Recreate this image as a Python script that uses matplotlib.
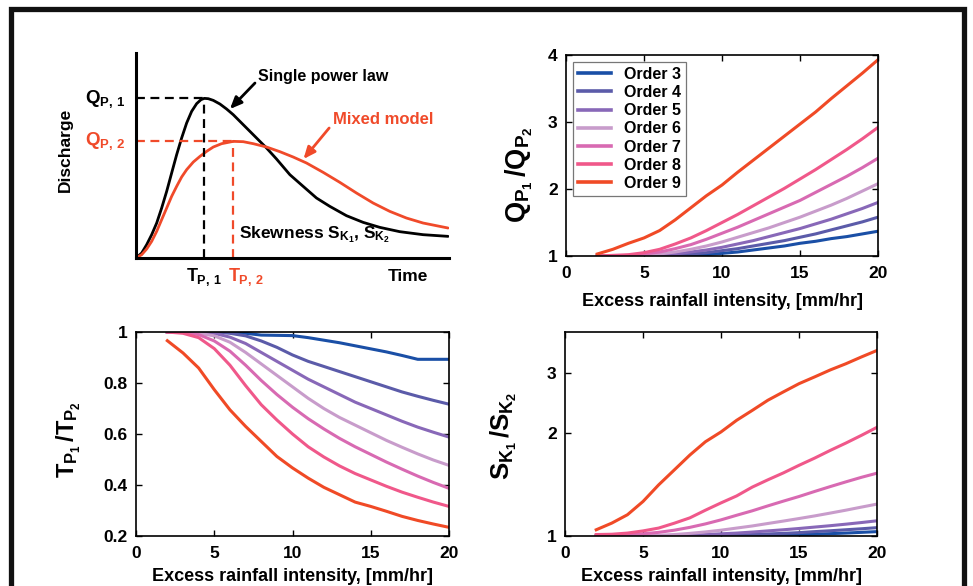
import matplotlib
matplotlib.use("Agg")
import matplotlib.pyplot as plt
from matplotlib.patches import Rectangle

plt.rcParams['font.family'] = ['Liberation Sans', 'DejaVu Sans']
plt.rcParams['font.weight'] = 'bold'
plt.rcParams['axes.labelweight'] = 'bold'
plt.rcParams['mathtext.fontset'] = 'custom'
plt.rcParams['mathtext.rm'] = 'Liberation Sans:bold'
plt.rcParams['mathtext.it'] = 'Liberation Sans:bold'
plt.rcParams['mathtext.bf'] = 'Liberation Sans:bold'

# ---- conceptual hydrographs (normalised time / discharge) ----
single_t = [0.0, 0.181, 0.340, 0.500, 0.660, 0.819, 0.979, 1.138, 1.298, 1.457, 1.617,
            1.777, 1.936, 2.074, 2.181, 2.309, 2.468, 2.681, 2.894, 3.106, 3.319, 3.585,
            3.851, 4.170, 4.489, 4.915, 5.340, 5.766, 6.191, 6.723, 7.255, 7.787, 8.426,
            9.170, 9.968]
single_q = [0.0, 0.25, 0.667, 1.167, 1.75, 2.5, 3.333, 4.25, 5.167, 6.0, 6.75,
            7.333, 7.717, 7.917, 7.983, 7.967, 7.883, 7.7, 7.45, 7.167, 6.833, 6.417,
            6.0, 5.5, 4.95, 4.167, 3.583, 3.0, 2.583, 2.117, 1.783, 1.533, 1.317,
            1.167, 1.083]
mixed_t = [0.0, 0.181, 0.340, 0.500, 0.660, 0.819, 0.979, 1.138, 1.298, 1.457, 1.617,
           1.830, 2.043, 2.255, 2.468, 2.734, 3.106, 3.426, 3.745, 4.170, 4.596, 5.021,
           5.447, 5.979, 6.511, 7.043, 7.574, 8.106, 8.638, 9.170, 9.968]
mixed_q = [0.0, 0.167, 0.45, 0.833, 1.333, 1.917, 2.5, 3.083, 3.583, 4.05, 4.417,
           4.8, 5.083, 5.333, 5.55, 5.717, 5.833, 5.817, 5.717, 5.55, 5.317, 5.05,
           4.75, 4.283, 3.783, 3.25, 2.75, 2.333, 2.0, 1.75, 1.5]

# ---- ratios vs excess rainfall intensity ----
intensity = [2, 3, 4, 5, 6, 7, 8, 9, 10, 11, 12, 13, 14, 15, 16, 17, 18, 19, 20]
orders = ['Order 3', 'Order 4', 'Order 5', 'Order 6', 'Order 7', 'Order 8', 'Order 9']
colors = ['#1a4fa6', '#5b5ba9', '#8868b8', '#c89ccb', '#d86ab2', '#f0588a', '#f04a26']

qp_ratio = [
    [1.00, 1.00, 1.00, 1.00, 1.00, 1.00, 1.00, 1.02, 1.04, 1.06, 1.09, 1.12, 1.15, 1.19, 1.22, 1.26, 1.29, 1.33, 1.37],
    [1.00, 1.00, 1.00, 1.00, 1.00, 1.01, 1.03, 1.05, 1.08, 1.11, 1.15, 1.19, 1.23, 1.28, 1.33, 1.39, 1.45, 1.51, 1.58],
    [1.00, 1.00, 1.00, 1.00, 1.01, 1.03, 1.06, 1.09, 1.13, 1.18, 1.23, 1.29, 1.35, 1.41, 1.48, 1.55, 1.63, 1.71, 1.80],
    [1.00, 1.00, 1.00, 1.01, 1.03, 1.06, 1.10, 1.15, 1.21, 1.28, 1.35, 1.42, 1.50, 1.58, 1.67, 1.76, 1.86, 1.97, 2.08],
    [1.00, 1.00, 1.01, 1.03, 1.06, 1.11, 1.17, 1.25, 1.34, 1.43, 1.53, 1.63, 1.73, 1.83, 1.95, 2.07, 2.19, 2.32, 2.46],
    [1.00, 1.01, 1.02, 1.05, 1.10, 1.18, 1.27, 1.38, 1.50, 1.62, 1.75, 1.88, 2.01, 2.15, 2.29, 2.44, 2.59, 2.75, 2.92],
    [1.03, 1.10, 1.19, 1.27, 1.38, 1.54, 1.72, 1.90, 2.06, 2.25, 2.43, 2.61, 2.79, 2.97, 3.15, 3.35, 3.54, 3.73, 3.93],
]

tp_ratio = [
    [1.0, 1.0, 1.0, 1.0, 1.0, 0.995, 0.988, 0.987, 0.986, 0.978, 0.968, 0.958, 0.946, 0.934, 0.922, 0.908, 0.893, 0.893, 0.893],
    [1.0, 1.0, 1.0, 1.0, 0.995, 0.985, 0.965, 0.94, 0.91, 0.885, 0.865, 0.845, 0.825, 0.805, 0.785, 0.765, 0.748, 0.732, 0.717],
    [1.0, 1.0, 1.0, 0.995, 0.98, 0.955, 0.92, 0.885, 0.85, 0.815, 0.785, 0.755, 0.725, 0.70, 0.675, 0.65, 0.627, 0.607, 0.588],
    [1.0, 1.0, 0.995, 0.985, 0.96, 0.92, 0.875, 0.83, 0.785, 0.74, 0.70, 0.665, 0.635, 0.605, 0.575, 0.548, 0.522, 0.498, 0.477],
    [1.0, 0.998, 0.99, 0.965, 0.925, 0.87, 0.81, 0.755, 0.705, 0.66, 0.62, 0.583, 0.55, 0.52, 0.49, 0.462, 0.435, 0.41, 0.387],
    [1.0, 0.995, 0.978, 0.935, 0.87, 0.79, 0.715, 0.655, 0.60, 0.55, 0.51, 0.475, 0.445, 0.42, 0.395, 0.372, 0.352, 0.333, 0.316],
    [0.966, 0.918, 0.859, 0.774, 0.695, 0.63, 0.571, 0.512, 0.467, 0.427, 0.391, 0.362, 0.333, 0.316, 0.297, 0.277, 0.261, 0.247, 0.234],
]

sk_ratio = [
    [1.0, 1.0, 1.0, 1.0, 1.0, 1.0, 1.0, 1.0, 1.0, 1.0, 1.002, 1.004, 1.006, 1.009, 1.012, 1.016, 1.02, 1.025, 1.03],
    [1.0, 1.0, 1.0, 1.0, 1.0, 1.0, 1.0, 1.0, 1.003, 1.006, 1.01, 1.014, 1.018, 1.023, 1.03, 1.036, 1.043, 1.05, 1.058],
    [1.0, 1.0, 1.0, 1.0, 1.0, 1.0, 1.005, 1.01, 1.015, 1.02, 1.027, 1.035, 1.043, 1.052, 1.062, 1.072, 1.083, 1.095, 1.108],
    [1.0, 1.0, 1.001, 1.002, 1.005, 1.01, 1.018, 1.028, 1.04, 1.055, 1.07, 1.088, 1.106, 1.125, 1.145, 1.167, 1.19, 1.215, 1.24],
    [1.005, 1.007, 1.01, 1.015, 1.025, 1.04, 1.06, 1.085, 1.115, 1.15, 1.185, 1.225, 1.265, 1.305, 1.35, 1.395, 1.44, 1.485, 1.527],
    [1.01, 1.012, 1.02, 1.035, 1.055, 1.09, 1.13, 1.19, 1.25, 1.31, 1.39, 1.46, 1.53, 1.61, 1.69, 1.78, 1.87, 1.97, 2.08],
    [1.043, 1.091, 1.154, 1.262, 1.411, 1.56, 1.725, 1.887, 2.016, 2.18, 2.33, 2.495, 2.64, 2.79, 2.92, 3.06, 3.19, 3.34, 3.49],
]

xlabel = 'Excess rainfall intensity, [mm/hr]'
red = '#f04a2a'

fig = plt.figure(figsize=(9.73, 5.86), dpi=100)
fig.patch.set_facecolor('white')

# outer frame
fig.patches.append(Rectangle((0.0113, -0.05), 0.9794, 0.9838 + 0.05, transform=fig.transFigure,
                             fill=False, edgecolor='#111111', linewidth=3.8, zorder=0))

ax1 = fig.add_axes([0.1398, 0.5597, 0.3217, 0.3498])
ax2 = fig.add_axes([0.5817, 0.5631, 0.3207, 0.3430])
ax3 = fig.add_axes([0.1398, 0.0853, 0.3217, 0.3481])
ax4 = fig.add_axes([0.5807, 0.0853, 0.3207, 0.3481])

# ---------- hydrograph sketch ----------
ax1.plot(single_t, single_q, color='black', lw=2.0, solid_capstyle='round', solid_joinstyle='round')
ax1.plot(mixed_t, mixed_q, color=red, lw=2.0, solid_capstyle='round', solid_joinstyle='round')
i1 = single_q.index(max(single_q))
i2 = mixed_q.index(max(mixed_q))
tp1, qp1 = single_t[i1], single_q[i1]
tp2, qp2 = mixed_t[i2], mixed_q[i2]
dash = (0, (4, 2.5))
ax1.plot([0, tp1], [qp1, qp1], color='black', lw=1.6, ls=dash)
ax1.plot([tp1, tp1], [0, qp1], color='black', lw=1.6, ls=dash)
ax1.plot([0, tp2], [qp2, qp2], color=red, lw=1.6, ls=dash)
ax1.plot([tp2, tp2], [0, qp2], color=red, lw=1.6, ls=dash)
ax1.set_xlim(0, 10)
ax1.set_ylim(0, 10.25)
ax1.set_xticks([])
ax1.set_yticks([])
for s in ['top', 'right']:
    ax1.spines[s].set_visible(False)
for s in ['left', 'bottom']:
    ax1.spines[s].set_linewidth(2.2)
ax1.patch.set_alpha(0)

ax1.text(-0.035, qp1 - 0.25, r'$Q_{P,\,1}$', transform=ax1.get_yaxis_transform(),
         ha='right', va='baseline', fontsize=13.5, color='black')
ax1.text(-0.035, qp2 - 0.2, r'$Q_{P,\,2}$', transform=ax1.get_yaxis_transform(),
         ha='right', va='baseline', fontsize=13.5, color=red)
ax1.text(tp1 - 0.6, -1.15, r'$T_{P,\,1}$', ha='left', va='baseline', fontsize=13,
         color='black', clip_on=False)
ax1.text(tp2 - 0.16, -1.15, r'$T_{P,\,2}$', ha='left', va='baseline', fontsize=13,
         color=red, clip_on=False)
ax1.text(8.05, -1.13, 'Time', ha='left', va='baseline', fontsize=12.5, clip_on=False)
ax1.text(-0.227, 0.527, 'Discharge', transform=ax1.transAxes, rotation=90,
         ha='center', va='center', fontsize=12.5)
ax1.text(3.29, 0.98, r'Skewness $S_{K_1}$, $S_{K_2}$', ha='left', va='baseline', fontsize=12.5)
ax1.text(3.91, 8.87, 'Single power law', ha='left', va='baseline', fontsize=11.5)
ax1.text(6.3, 6.7, 'Mixed model', ha='left', va='baseline', fontsize=12, color=red)
ax1.annotate('', xy=(3.0, 7.45), xytext=(3.80, 8.75),
             arrowprops=dict(arrowstyle='-|>,head_length=0.7,head_width=0.3',
                             color='black', lw=2.0, shrinkA=0, shrinkB=0))
ax1.annotate('', xy=(5.35, 4.95), xytext=(6.17, 6.5),
             arrowprops=dict(arrowstyle='-|>,head_length=0.7,head_width=0.3',
                             color=red, lw=2.0, shrinkA=0, shrinkB=0))


def style_box(ax, labelpad):
    ax.set_xlim(0, 20)
    ax.set_xticks([0, 5, 10, 15, 20])
    ax.tick_params(which='both', direction='in', top=True, right=True,
                   length=4, width=1.0, labelsize=12.5, pad=6)
    ax.tick_params(axis='x', pad=7)
    ax.minorticks_off()
    for s in ax.spines.values():
        s.set_linewidth(1.2)
    ax.set_xlabel(xlabel, fontsize=13, fontweight='bold', labelpad=labelpad)
    ax.patch.set_alpha(0)


# ---------- peak discharge ratio ----------
for name, col, vals in zip(orders, colors, qp_ratio):
    ax2.plot(intensity, vals, color=col, lw=2.2, label=name)
ax2.set_ylim(1, 4)
ax2.set_yticks([1, 2, 3, 4])
style_box(ax2, 9)
ax2.text(-0.151, 0.405, r'$Q_{P_1}\,/Q_{P_2}$', transform=ax2.transAxes, rotation=90,
         rotation_mode='anchor', ha='center', va='center', fontsize=19.5)
leg = ax2.legend(loc='upper left', bbox_to_anchor=(0.022, 0.965), fontsize=11.5,
                 handlelength=2.1, handletextpad=0.8, labelspacing=0.2,
                 borderpad=0.3, borderaxespad=0, fancybox=False, framealpha=1)
leg.get_frame().set_edgecolor('#777777')
leg.get_frame().set_linewidth(0.9)
for line in leg.get_lines():
    line.set_linewidth(2.6)

# ---------- time to peak ratio ----------
for col, vals in zip(colors, tp_ratio):
    ax3.plot(intensity, vals, color=col, lw=2.2)
ax3.set_ylim(0.2, 1)
ax3.set_yticks([0.2, 0.4, 0.6, 0.8, 1.0])
ax3.set_yticklabels(['0.2', '0.4', '0.6', '0.8', '1'])
style_box(ax3, 5)
ax3.text(-0.215, 0.47, r'$T_{P_1}\,/T_{P_2}$', transform=ax3.transAxes, rotation=90,
         rotation_mode='anchor', ha='center', va='center', fontsize=17)

# ---------- skewness ratio ----------
for col, vals in zip(colors, sk_ratio):
    ax4.plot(intensity, vals, color=col, lw=2.2)
ax4.set_yscale('log')
ax4.set_ylim(1, 3.95)
ax4.set_yticks([1, 2, 3])
ax4.set_yticklabels(['1', '2', '3'])
style_box(ax4, 5)
ax4.yaxis.set_minor_locator(matplotlib.ticker.NullLocator())
ax4.text(-0.197, 0.49, r'$S_{K_1}\,/S_{K_2}$', transform=ax4.transAxes, rotation=90,
         rotation_mode='anchor', ha='center', va='center', fontsize=18.5)

fig.savefig('out.png', dpi=100, facecolor='white')
